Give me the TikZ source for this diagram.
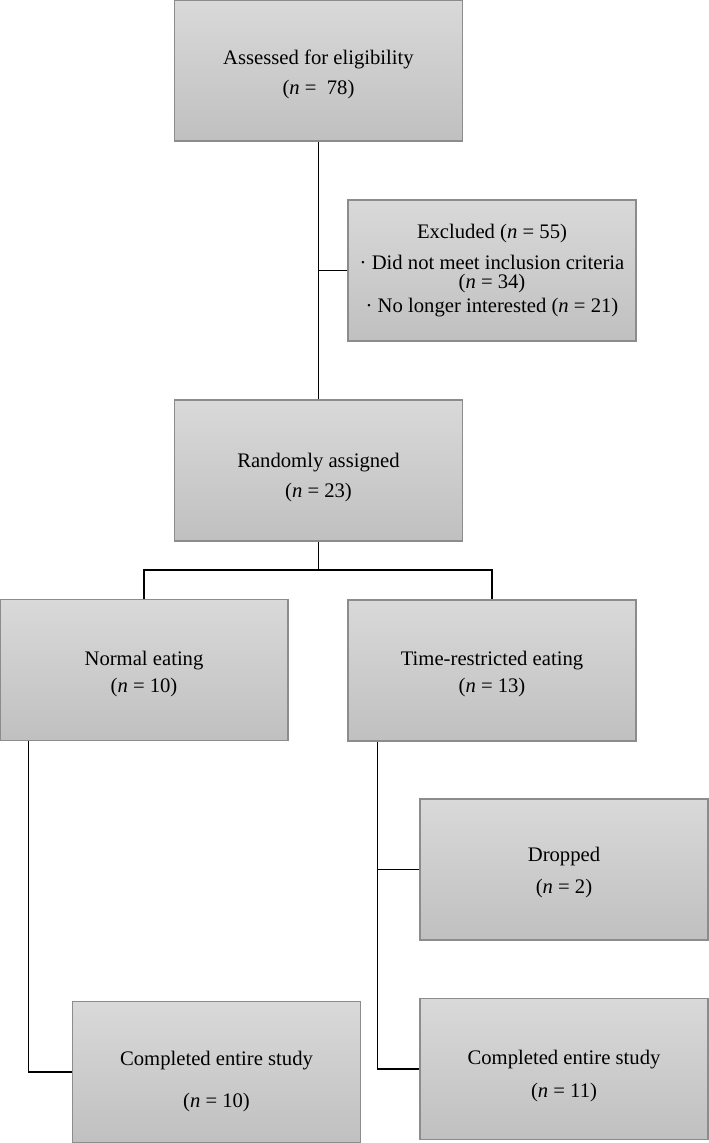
\documentclass[tikz,border=0pt]{standalone}
\usepackage{fontspec}
\setmainfont{Liberation Serif}
\definecolor{boxtop}{RGB}{217,217,217}
\definecolor{boxbottom}{RGB}{192,192,192}
\definecolor{boxline}{RGB}{140,140,140}
% invisible strut that lowers the text in a box
\newcommand{\pushdown}[1]{\rule{0pt}{#1}}

\begin{document}
\begin{tikzpicture}[x=0.75pt,y=-0.75pt,
    stage/.style={rectangle, draw=boxline, line width=1.2pt,
      top color=boxtop, bottom color=boxbottom,
      minimum width=216pt, minimum height=105.75pt, inner sep=0pt,
      align=center, font=\fontsize{15.5}{22.5}\selectfont},
    link/.style={black, line width=0.9pt}]
                % Fix the page size
                \useasboundingbox (0,0) rectangle (709,1143);

                % Draw the boxes
                \node[stage] (assessed) at (318.5,70.5) {\pushdown{16.6pt}Assessed for eligibility\\(\textit{n} = \ 78)};
                \node[stage] (excluded) at (492,270.5) {Excluded (\textit{n} = 55)\\[0.75pt]· Did not meet inclusion criteria\\[-8.25pt](\textit{n} = 34)\\[-4.5pt]· No longer interested (\textit{n} = 21)};
                \node[stage] (random) at (318.5,470.5) {\pushdown{21.1pt}Randomly assigned\\(\textit{n} = 23)};
                \node[stage] (normal) at (144,670) {\pushdown{16.6pt}Normal eating\\[-2.25pt](\textit{n} = 10)};
                \node[stage] (tre) at (492,670.5) {\pushdown{16.6pt}Time-restricted eating\\[-2.25pt](\textit{n} = 13)};
                \node[stage] (dropped) at (564,869.5) {\pushdown{15.9pt}Dropped\\[1.5pt](\textit{n} = 2)};
                \node[stage] (donenormal) at (216.5,1072) {\pushdown{25.6pt}Completed entire study\\[9pt](\textit{n} = 10)};
                \node[stage] (donetre) at (564,1069) {\pushdown{21.1pt}Completed entire study\\[2.25pt](\textit{n} = 11)};

                % Split points of the lines
                \coordinate (split) at (318.5,570);
                \coordinate (leftline) at ([xshift=21.75pt]normal.south west);
                \coordinate (rightline) at ([xshift=22.5pt]tre.south west);

                % Draw the connecting lines
                \draw[link] (assessed) -- (random);
                \draw[link] (excluded.west) -- (excluded.west -| assessed.south);
                \draw[link] (random) -- (split);
                \draw[link] (normal.north) |- (split) -| (tre.north);
                \draw[link] (leftline) |- (donenormal.west);
                \draw[link] (rightline) |- (donetre.west);
                \draw[link] (dropped.west) -- (dropped.west -| rightline);
            \end{tikzpicture}
\end{document}
